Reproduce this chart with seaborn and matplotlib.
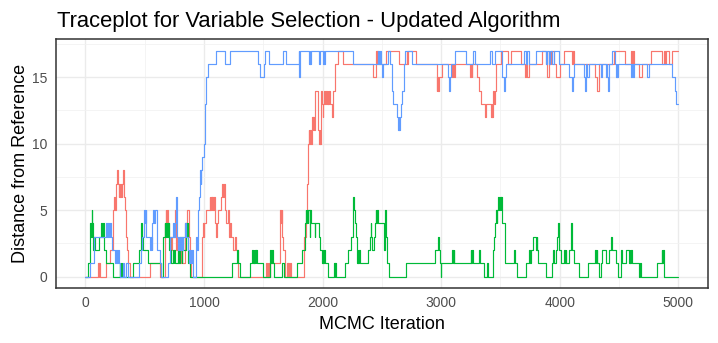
import numpy as np
import pandas as pd
import matplotlib
matplotlib.use("Agg")
import matplotlib.pyplot as plt
import seaborn as sns

# ===============================
# 1. TRACE DATA (change points: iteration, distance)
# ===============================

chain_red = [
    (0, 0), (107, 1), (112, 0), (117, 1), (122, 0), (171, 1), (205, 2), (233, 5), (240, 6),
    (247, 5), (256, 6), (262, 7), (267, 8), (275, 7), (281, 6), (287, 7), (293, 6), (299, 7),
    (305, 6), (311, 7), (317, 8), (325, 6), (331, 5), (340, 3), (351, 2), (360, 1), (379, 0),
    (542, 1), (626, 0), (669, 4), (677, 5), (683, 4), (689, 5), (695, 4), (702, 3), (711, 2),
    (717, 3), (723, 2), (729, 3), (753, 5), (767, 2), (772, 3), (781, 1), (790, 2), (798, 1),
    (806, 2), (814, 1), (837, 4), (857, 5), (871, 3), (879, 1), (893, 0), (986, 3), (992, 4),
    (998, 3), (1004, 4), (1014, 5), (1048, 6), (1054, 5), (1060, 6), (1066, 5), (1072, 6),
    (1078, 5), (1084, 6), (1095, 4), (1101, 3), (1108, 4), (1118, 5), (1146, 6), (1154, 7),
    (1162, 6), (1168, 7), (1174, 5), (1188, 4), (1200, 5), (1211, 3), (1220, 4), (1230, 3),
    (1244, 2), (1258, 3), (1272, 2), (1286, 0), (1525, 1), (1531, 0), (1537, 1), (1543, 0),
    (1549, 1), (1555, 0), (1561, 1), (1638, 2), (1643, 5), (1650, 4), (1655, 5), (1660, 3),
    (1666, 2), (1680, 1), (1686, 0), (1700, 1), (1706, 0), (1712, 1), (1718, 0), (1724, 1),
    (1734, 0), (1840, 3), (1863, 4), (1868, 7), (1877, 10), (1882, 11), (1888, 10), (1894, 11),
    (1900, 10), (1910, 12), (1916, 11), (1922, 12), (1930, 11), (1938, 14), (1961, 11),
    (1966, 10), (1975, 11), (1980, 10), (1986, 14), (1994, 13), (2003, 12), (2008, 13),
    (2014, 14), (2022, 13), (2028, 14), (2036, 13), (2044, 14), (2050, 13), (2058, 14),
    (2066, 13), (2078, 12), (2085, 14), (2101, 16), (2134, 17), (2176, 16), (2429, 15),
    (2451, 17), (2457, 16), (2463, 17), (2471, 16), (2535, 17), (2647, 16), (2709, 17),
    (2715, 16), (2721, 17), (2787, 16), (2961, 14), (2968, 15), (2975, 14), (2982, 15),
    (3003, 16), (3095, 15), (3102, 16), (3109, 15), (3116, 16), (3240, 15), (3248, 16),
    (3256, 15), (3264, 16), (3270, 16), (3306, 15), (3320, 14), (3334, 13), (3368, 12),
    (3376, 13), (3419, 12), (3425, 13), (3431, 12), (3438, 14), (3444, 13), (3450, 14),
    (3461, 16), (3508, 17), (3567, 16), (3587, 17), (3677, 16), (3708, 15), (3716, 16),
    (3724, 15), (3742, 16), (3854, 17), (3882, 16), (3889, 17), (3896, 15), (3910, 16),
    (3924, 17), (3952, 16), (3966, 15), (4003, 16), (4037, 17), (4107, 16), (4114, 17),
    (4121, 16), (4295, 15), (4317, 14), (4331, 16), (4458, 17), (4551, 16), (4604, 17),
    (4612, 16), (4620, 17), (4628, 16), (4669, 15), (4697, 16), (4767, 17), (4860, 16),
    (4879, 17), (4887, 16), (4895, 17), (4921, 16), (4944, 17), (5000, 17),
]

chain_green = [
    (0, 0), (22, 1), (37, 3), (42, 4), (48, 3), (56, 5), (59, 4), (65, 2), (70, 3), (79, 2),
    (115, 3), (135, 4), (141, 3), (147, 4), (157, 2), (177, 1), (233, 0), (289, 1), (295, 0),
    (301, 1), (307, 0), (402, 1), (452, 2), (472, 4), (478, 3), (486, 2), (528, 1), (640, 0),
    (654, 3), (669, 4), (675, 3), (681, 4), (687, 3), (693, 4), (705, 2), (711, 3), (717, 2),
    (725, 1), (739, 2), (745, 1), (751, 2), (757, 1), (781, 2), (787, 3), (793, 1), (799, 3),
    (805, 2), (811, 1), (817, 3), (823, 2), (851, 4), (857, 3), (863, 4), (869, 1), (885, 0),
    (1236, 1), (1281, 2), (1287, 1), (1301, 0), (1385, 1), (1407, 2), (1413, 1), (1419, 2),
    (1425, 1), (1431, 2), (1437, 1), (1443, 2), (1449, 1), (1497, 0), (1553, 1), (1560, 2),
    (1566, 1), (1572, 2), (1578, 1), (1588, 0), (1658, 1), (1672, 0), (1784, 1), (1826, 2),
    (1852, 4), (1858, 5), (1862, 4), (1868, 5), (1874, 4), (1880, 5), (1891, 3), (1896, 5),
    (1905, 4), (1935, 3), (1940, 4), (1966, 3), (1980, 2), (1994, 1), (2000, 2), (2006, 1),
    (2012, 2), (2022, 1), (2050, 0), (2098, 1), (2103, 0), (2108, 1), (2112, 0), (2190, 1),
    (2213, 2), (2241, 3), (2255, 5), (2260, 6), (2266, 5), (2275, 4), (2283, 3), (2289, 1),
    (2295, 2), (2301, 1), (2307, 2), (2317, 1), (2387, 2), (2401, 3), (2406, 4), (2410, 3),
    (2420, 2), (2437, 3), (2443, 4), (2448, 5), (2454, 4), (2460, 5), (2471, 4), (2521, 2),
    (2527, 5), (2533, 3), (2541, 1), (2563, 0), (2703, 1), (2947, 2), (2975, 3), (2983, 2),
    (2989, 1), (2995, 0), (3001, 1), (3095, 2), (3100, 1), (3105, 2), (3109, 1), (3249, 2),
    (3255, 1), (3262, 2), (3269, 1), (3319, 2), (3325, 1), (3362, 0), (3385, 1), (3392, 0),
    (3433, 1), (3438, 2), (3447, 3), (3455, 4), (3462, 5), (3468, 4), (3475, 5), (3483, 6),
    (3489, 5), (3495, 6), (3501, 5), (3506, 6), (3510, 5), (3517, 4), (3537, 1), (3615, 2),
    (3621, 1), (3640, 0), (3719, 1), (3742, 2), (3748, 1), (3754, 2), (3775, 3), (3798, 2),
    (3804, 3), (3810, 2), (3817, 1), (3888, 0), (3933, 1), (3944, 2), (3952, 1), (3966, 2),
    (3980, 3), (3989, 4), (3994, 2), (4008, 1), (4037, 2), (4043, 1), (4049, 2), (4055, 1),
    (4079, 2), (4093, 3), (4098, 4), (4102, 3), (4107, 2), (4121, 1), (4163, 0), (4242, 1),
    (4298, 2), (4304, 1), (4310, 2), (4317, 1), (4331, 0), (4346, 1), (4360, 2), (4388, 1),
    (4416, 2), (4430, 3), (4438, 2), (4478, 1), (4494, 0), (4514, 1), (4520, 2), (4528, 1),
    (4556, 2), (4584, 1), (4590, 2), (4596, 1), (4602, 2), (4612, 1), (4669, 0), (4675, 1),
    (4683, 0), (4823, 1), (4860, 2), (4866, 1), (4872, 2), (4879, 0), (5000, 0),
]

chain_blue = [
    (0, 0), (42, 1), (73, 3), (177, 4), (185, 3), (193, 4), (201, 3), (209, 4), (217, 3),
    (225, 2), (253, 1), (261, 2), (269, 1), (277, 2), (285, 1), (295, 0), (317, 1), (330, 0),
    (345, 1), (360, 0), (452, 1), (466, 2), (480, 3), (492, 5), (500, 4), (508, 5), (514, 3),
    (542, 2), (550, 3), (558, 2), (566, 4), (574, 5), (582, 4), (590, 5), (604, 2), (626, 1),
    (640, 0), (697, 1), (711, 3), (739, 4), (747, 3), (755, 4), (767, 6), (775, 3), (783, 2),
    (791, 3), (799, 2), (807, 3), (815, 2), (823, 3), (837, 4), (850, 3), (865, 2), (873, 1),
    (881, 2), (889, 1), (897, 2), (907, 0), (930, 3), (944, 2), (949, 5), (958, 6), (963, 7),
    (968, 8), (973, 7), (978, 8), (986, 9), (997, 10), (1006, 13), (1014, 14), (1020, 15),
    (1034, 16), (1104, 17), (1174, 16), (1222, 17), (1455, 16), (1469, 15), (1506, 16),
    (1511, 17), (1545, 16), (1666, 17), (1692, 16), (1798, 17), (1802, 15), (1810, 17),
    (1882, 16), (1890, 17), (1896, 16), (1904, 17), (1966, 16), (1980, 17), (2003, 16),
    (2010, 17), (2016, 16), (2022, 17), (2260, 16), (2471, 17), (2476, 16), (2482, 17),
    (2490, 16), (2499, 15), (2513, 16), (2555, 17), (2565, 16), (2583, 14), (2597, 13),
    (2625, 12), (2633, 11), (2641, 12), (2647, 11), (2653, 12), (2658, 13), (2672, 14),
    (2683, 16), (2695, 17), (2751, 16), (3059, 15), (3066, 14), (3073, 15), (3087, 16),
    (3115, 17), (3213, 16), (3270, 17), (3287, 16), (3410, 17), (3427, 16), (3455, 17),
    (3511, 16), (3517, 15), (3531, 14), (3539, 15), (3545, 16), (3699, 17), (3713, 16),
    (3728, 17), (3742, 16), (3798, 17), (3888, 16), (3895, 17), (3910, 16), (3917, 17),
    (3938, 16), (3952, 17), (3994, 16), (4079, 15), (4101, 14), (4112, 15), (4121, 16),
    (4205, 15), (4212, 14), (4219, 16), (4233, 15), (4247, 16), (4346, 15), (4355, 16),
    (4388, 15), (4395, 16), (4401, 15), (4410, 14), (4418, 16), (4444, 17), (4466, 16),
    (4472, 15), (4480, 16), (4486, 15), (4492, 16), (4604, 15), (4610, 16), (4618, 15),
    (4622, 16), (4739, 15), (4753, 16), (4949, 15), (4972, 14), (4983, 13), (5000, 13),
]

chain_names = ["1", "2", "3"]
chain_colors = ["#F8766D", "#00BA38", "#619CFF"]

x_ticks = [0, 1000, 2000, 3000, 4000, 5000]
y_ticks = [0, 5, 10, 15]

# ===============================
# 2. BUILD LONG TABLE
# ===============================
frames = []
for name, chain in zip(chain_names, [chain_red, chain_green, chain_blue]):
    it, val = zip(*chain)
    frames.append(pd.DataFrame({"Iteration": it, "Distance": val, "Chain": name}))
df = pd.concat(frames, ignore_index=True)

# ===============================
# 3. PLOT
# ===============================
sns.set_style("white")
plt.rcParams["font.family"] = ["Liberation Sans", "DejaVu Sans"]

fig = plt.figure(figsize=(7.18, 3.43), dpi=100)
ax = fig.add_axes([55.7 / 718, 1 - 288 / 343, (708 - 55.7) / 718, (288 - 39.3) / 343])

ax.set_xticks(x_ticks)
ax.set_yticks(y_ticks)
ax.set_xticks([500, 1500, 2500, 3500, 4500], minor=True)
ax.set_yticks([2.5, 7.5, 12.5, 17.5], minor=True)
ax.grid(True, which="major", color="#EBEBEB", linewidth=1.0)
ax.grid(True, which="minor", color="#F2F2F2", linewidth=0.6)
ax.set_axisbelow(True)

sns.lineplot(data=df, x="Iteration", y="Distance", hue="Chain",
             palette=dict(zip(chain_names, chain_colors)), estimator=None,
             drawstyle="steps-post", linewidth=0.85, legend=False, ax=ax)

ax.set_xlim(-250, 5250)
ax.set_ylim(-0.85, 17.85)

for s in ax.spines.values():
    s.set_color("#333333")
    s.set_linewidth(1.1)
ax.tick_params(which="major", length=3.5, width=0.9, color="#333333",
               labelsize=10, labelcolor="#4D4D4D", pad=2.5)
ax.tick_params(which="minor", length=0)

ax.set_xlabel("MCMC Iteration", fontsize=13, color="black", labelpad=4)
ax.set_ylabel("Distance from Reference", fontsize=13, color="black", labelpad=2.5)
fig.text(57 / 718, 1 - 26.5 / 343, "Traceplot for Variable Selection - Updated Algorithm",
         fontsize=15.8, color="black", ha="left", va="baseline")

fig.savefig("out.png", dpi=100)
